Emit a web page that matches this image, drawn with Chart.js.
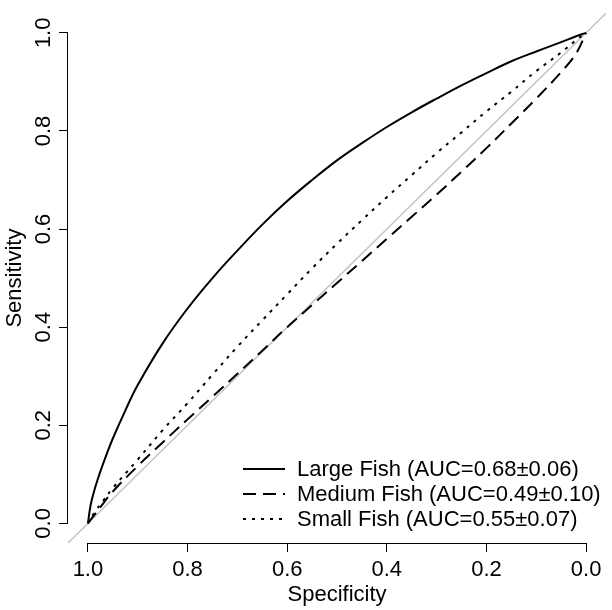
<!DOCTYPE html>
<html>
<head>
<meta charset="utf-8">
<script src="https://cdn.jsdelivr.net/npm/chart.js@4"></script>
<style>
html,body{margin:0;padding:0;background:#fff;}
canvas{display:block;}
</style>
</head>
<body>
<canvas id="c" width="612" height="610"></canvas>
<script>
// ---- data ----
const largeSpec  = [1.000,0.995,0.990,0.980,0.965,0.950,0.925,0.900,0.850,0.800,0.750,0.700,0.650,0.600,0.550,0.500,0.450,0.400,0.350,0.300,0.250,0.200,0.150,0.100,0.050,0.020,0.000];
const largeSens  = [0.000,0.035,0.057,0.091,0.134,0.173,0.230,0.282,0.367,0.438,0.500,0.556,0.609,0.657,0.700,0.740,0.775,0.808,0.838,0.866,0.893,0.918,0.942,0.962,0.981,0.993,1.000];

const mediumSpec = [1.000,0.985,0.970,0.950,0.900,0.850,0.800,0.750,0.700,0.650,0.600,0.550,0.500,0.450,0.400,0.350,0.300,0.250,0.200,0.150,0.100,0.050,0.020,0.000];
const mediumSens = [0.000,0.020,0.040,0.065,0.117,0.165,0.212,0.258,0.305,0.352,0.400,0.445,0.490,0.535,0.580,0.625,0.670,0.717,0.765,0.815,0.866,0.920,0.958,1.000];

const smallSpec  = [1.000,0.985,0.970,0.950,0.900,0.850,0.800,0.750,0.700,0.650,0.600,0.550,0.500,0.450,0.400,0.350,0.300,0.250,0.200,0.150,0.100,0.050,0.020,0.000];
const smallSens  = [0.000,0.025,0.045,0.072,0.130,0.190,0.245,0.303,0.360,0.414,0.467,0.520,0.570,0.618,0.665,0.710,0.755,0.797,0.840,0.880,0.922,0.960,0.985,1.000];

const chanceSpec = [1.1,-0.1];
const chanceSens = [-0.1,1.1];

const tickValues = [0.0,0.2,0.4,0.6,0.8,1.0];
const seriesNames = ["Large Fish (AUC=0.68±0.06)","Medium Fish (AUC=0.49±0.10)","Small Fish (AUC=0.55±0.07)"];
const xTitle = "Specificity";
const yTitle = "Sensitivity";

// ---- helpers ----
const FAMILY = "'Liberation Sans', Arial, Helvetica, sans-serif";
const FSIZE = 22;
const pts = (xs, ys) => xs.map((x, i) => ({x: x, y: ys[i]}));
const fixTicks = s => { s.ticks = tickValues.map(v => ({value: v})); };

const axisLines = {
  id: 'axisLines',
  afterDraw(chart) {
    const {ctx, scales: {x, y}} = chart;
    ctx.save();
    ctx.strokeStyle = '#000';
    ctx.lineWidth = 1;
    ctx.setLineDash([]);
    const yb = Math.round(y.bottom) + 0.5;
    const xl = Math.round(x.left) - 0.5;
    ctx.beginPath();
    ctx.moveTo(x.getPixelForValue(1), yb);
    ctx.lineTo(x.getPixelForValue(0), yb);
    ctx.moveTo(xl, y.getPixelForValue(0));
    ctx.lineTo(xl, y.getPixelForValue(1));
    ctx.stroke();
    ctx.restore();
  }
};

const manualLegend = {
  id: 'manualLegend',
  afterDraw(chart) {
    const {ctx, chartArea} = chart;
    ctx.save();
    ctx.font = FSIZE + 'px ' + FAMILY;
    ctx.textBaseline = 'middle';
    ctx.textAlign = 'left';
    ctx.fillStyle = '#000';
    for (let i = 0; i < 3; i++) {
      const ds = chart.data.datasets[i];
      const yy = chartArea.bottom - 24 - (2 - i) * 25;
      const x0 = chartArea.left + 175, x1 = chartArea.left + 217;
      ctx.strokeStyle = ds.borderColor;
      ctx.lineWidth = ds.borderWidth;
      ctx.lineCap = 'butt';
      ctx.setLineDash(ds.borderDash || []);
      ctx.beginPath();
      ctx.moveTo(x0, yy);
      ctx.lineTo(x1, yy);
      ctx.stroke();
      ctx.fillText(seriesNames[i], chartArea.left + 229, yy + 1);
    }
    ctx.restore();
  }
};

const curveBase = {
  showLine: true, pointRadius: 0, pointHoverRadius: 0, borderColor: '#000',
  borderWidth: 2, fill: false, tension: 0.4, borderCapStyle: 'butt', borderJoinStyle: 'round'
};

new Chart(document.getElementById('c'), {
  type: 'scatter',
  data: {
    datasets: [
      Object.assign({}, curveBase, {label: seriesNames[0], data: pts(largeSpec, largeSens), borderDash: [], order: 1}),
      Object.assign({}, curveBase, {label: seriesNames[1], data: pts(mediumSpec, mediumSens), borderDash: [13, 7], order: 2}),
      Object.assign({}, curveBase, {label: seriesNames[2], data: pts(smallSpec, smallSens), borderDash: [3, 6], order: 3}),
      {label: 'chance', data: pts(chanceSpec, chanceSens), showLine: true, pointRadius: 0,
       borderColor: '#c4c4c4', borderWidth: 1.5, order: 4}
    ]
  },
  options: {
    responsive: false,
    animation: false,
    devicePixelRatio: 1,
    layout: {padding: {top: 5, right: 6, left: 0, bottom: 0}},
    plugins: {legend: {display: false}, tooltip: {enabled: false}},
    scales: {
      x: {
        type: 'linear', reverse: true, min: -0.04, max: 1.04,
        afterBuildTicks: fixTicks,
        afterFit: s => { s.height = 67; },
        grid: {drawOnChartArea: false, drawTicks: true, tickLength: 9, color: '#000', lineWidth: 1},
        border: {display: false},
        ticks: {autoSkip: false, maxRotation: 0, minRotation: 0, padding: 5, color: '#000',
                font: {family: FAMILY, size: FSIZE}, callback: v => Number(v).toFixed(1)},
        title: {display: true, text: xTitle, color: '#000', font: {family: FAMILY, size: FSIZE},
                padding: {top: 0, bottom: 2}}
      },
      y: {
        type: 'linear', min: -0.04, max: 1.04,
        afterBuildTicks: fixTicks,
        afterFit: s => { s.width = 68; },
        grid: {drawOnChartArea: false, drawTicks: true, tickLength: 9, color: '#000', lineWidth: 1},
        border: {display: false},
        ticks: {autoSkip: false, minRotation: 90, maxRotation: 90, crossAlign: 'center', padding: 0,
                color: '#000', font: {family: FAMILY, size: FSIZE}, callback: v => Number(v).toFixed(1)},
        title: {display: true, text: yTitle, color: '#000', font: {family: FAMILY, size: FSIZE},
                padding: {top: 2, bottom: 0}}
      }
    }
  },
  plugins: [axisLines, manualLegend]
});
</script>
</body>
</html>
